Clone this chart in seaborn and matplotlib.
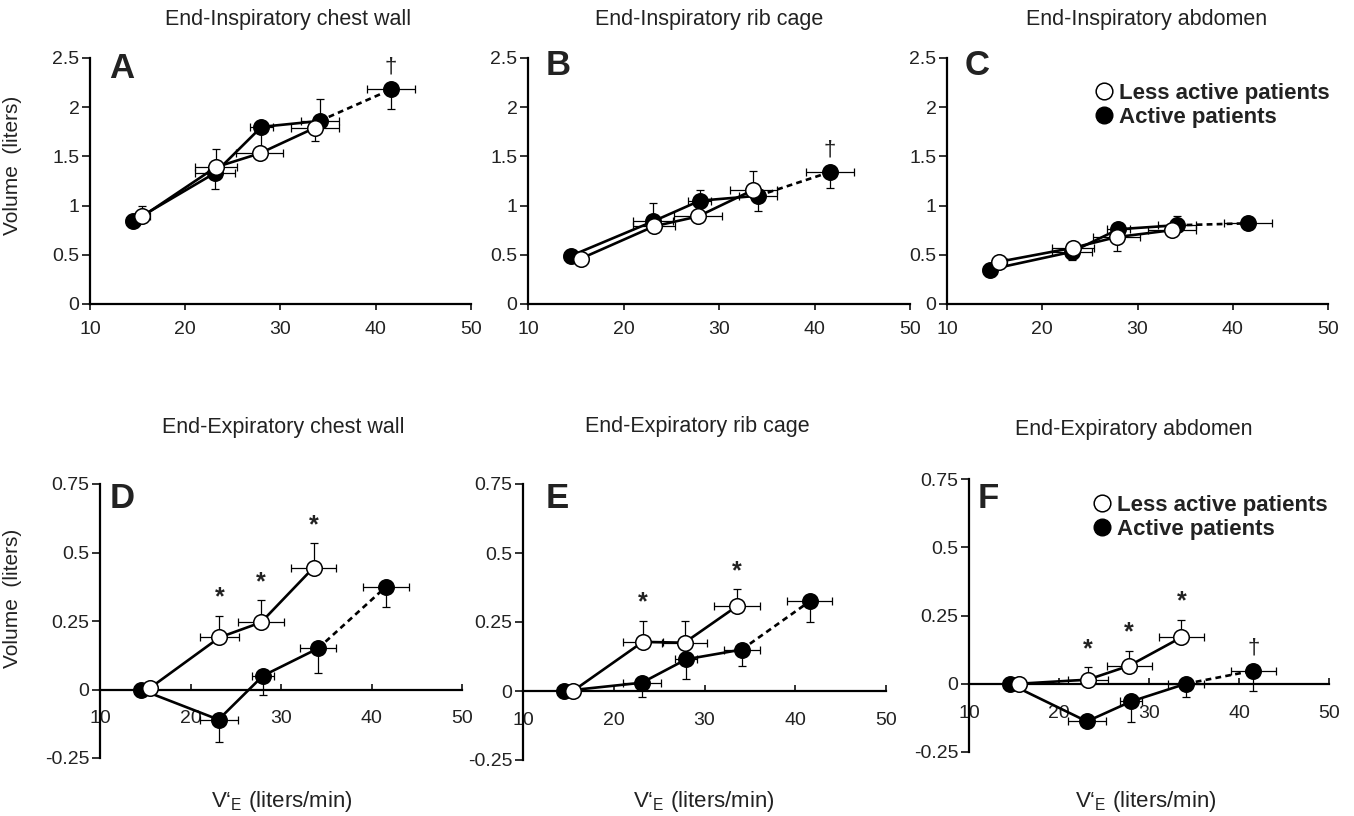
import matplotlib
matplotlib.use("Agg")
import matplotlib.pyplot as plt
import seaborn as sns
import pandas as pd
from matplotlib.lines import Line2D

# ---------------- data ----------------
ve_active = [14.5, 23.1, 28.0, 34.1, 41.6]
ve_active_err = [0.7, 2.1, 1.2, 2.0, 2.5]
ve_less = [15.5, 23.2, 27.8, 33.6]
ve_less_err = [0.8, 2.2, 2.5, 2.5]

panel_ids = ["A", "B", "C", "D", "E", "F"]
titles = ["End-Inspiratory chest wall", "End-Inspiratory rib cage", "End-Inspiratory abdomen",
          "End-Expiratory chest wall", "End-Expiratory rib cage", "End-Expiratory abdomen"]

active_y = {
    "A": [0.84, 1.33, 1.80, 1.86, 2.18],
    "B": [0.49, 0.84, 1.05, 1.10, 1.34],
    "C": [0.35, 0.53, 0.76, 0.80, 0.82],
    "D": [0.0, -0.11, 0.05, 0.15, 0.375],
    "E": [0.0, 0.03, 0.115, 0.15, 0.325],
    "F": [0.0, -0.138, -0.065, 0.0, 0.048],
}
active_err_lo = {
    "A": [0.03, 0.16, 0.25, 0.0, 0.20],
    "B": [0.02, 0.0, 0.0, 0.15, 0.16],
    "C": [0.0, 0.08, 0.0, 0.0, 0.04],
    "D": [0.0, 0.08, 0.07, 0.09, 0.075],
    "E": [0.0, 0.05, 0.07, 0.06, 0.075],
    "F": [0.0, 0.01, 0.075, 0.05, 0.075],
}
active_err_hi = {
    "A": [0.0, 0.0, 0.0, 0.22, 0.0],
    "B": [0.0, 0.19, 0.11, 0.0, 0.0],
    "C": [0.05, 0.0, 0.0, 0.09, 0.0],
    "D": [0.0, 0.0, 0.0, 0.0, 0.0],
    "E": [0.0, 0.0, 0.0, 0.0, 0.0],
    "F": [0.0, 0.0, 0.0, 0.0, 0.0],
}
less_y = {
    "A": [0.89, 1.39, 1.53, 1.79],
    "B": [0.46, 0.79, 0.89, 1.16],
    "C": [0.43, 0.57, 0.68, 0.75],
    "D": [0.005, 0.19, 0.245, 0.445],
    "E": [0.0, 0.178, 0.175, 0.308],
    "F": [0.0, 0.015, 0.066, 0.17],
}
less_err_lo = {
    "A": [0.0, 0.0, 0.0, 0.13],
    "B": [0.02, 0.0, 0.0, 0.0],
    "C": [0.0, 0.0, 0.14, 0.0],
    "D": [0.0, 0.0, 0.0, 0.0],
    "E": [0.0, 0.0, 0.0, 0.0],
    "F": [0.0, 0.0, 0.0, 0.0],
}
less_err_hi = {
    "A": [0.11, 0.19, 0.0, 0.0],
    "B": [0.0, 0.0, 0.0, 0.19],
    "C": [0.0, 0.0, 0.0, 0.0],
    "D": [0.0, 0.08, 0.08, 0.09],
    "E": [0.0, 0.077, 0.08, 0.06],
    "F": [0.0, 0.045, 0.055, 0.065],
}
# significance marks: * on less-active points, dagger on active points
star_idx = {"A": [], "B": [], "C": [], "D": [1, 2, 3], "E": [1, 3], "F": [1, 2, 3]}
dagger_idx = {"A": [4], "B": [4], "C": [], "D": [], "E": [], "F": [4]}

x_ticks = [10, 20, 30, 40, 50]
y_ticks_top = [0, 0.5, 1, 1.5, 2, 2.5]
y_tick_labels_top = ["0", "0.5", "1", "1.5", "2", "2.5"]
y_ticks_bot = [-0.25, 0, 0.25, 0.5, 0.75]
y_tick_labels_bot = ["-0.25", "0", "0.25", "0.5", "0.75"]
legend_labels = ["Less active patients", "Active patients"]

# ---------------- style ----------------
sns.set_theme(style="ticks")
plt.rcParams["font.family"] = ["Liberation Sans", "DejaVu Sans"]
plt.rcParams["mathtext.fontset"] = "custom"
plt.rcParams["mathtext.rm"] = "Liberation Sans"
plt.rcParams["mathtext.it"] = "Liberation Sans"
plt.rcParams["axes.unicode_minus"] = False

W, H = 1354, 816
fig = plt.figure(figsize=(W / 100, H / 100), dpi=100)

# axes boxes in pixels: left, top, right, bottom
boxes = {
    "A": (90, 58, 471, 304),
    "B": (528, 58, 910, 304),
    "C": (947, 58, 1328, 304),
    "D": (100, 484, 462, 758),
    "E": (523, 484, 886, 760),
    "F": (969, 479, 1329, 752),
}
title_pos = {"A": (0.52, 1.155), "B": (0.475, 1.155), "C": (0.525, 1.155),
             "D": (0.505, 1.205), "E": (0.48, 1.207), "F": (0.458, 1.183)}
letter_pos = {"A": (0.084, 0.958), "B": (0.079, 0.968), "C": (0.079, 0.968),
              "D": (0.061, 0.947), "E": (0.094, 0.947), "F": (0.053, 0.928)}
xlabel_pos = {"D": (0.503, -0.16), "E": (0.499, -0.152), "F": (0.49, -0.183)}
legend_anchor = {"C": (1.028, 0.935), "F": (1.022, 0.975)}

LW = 1.9
MS = 125
EW = 0.9
TXT = "#222222"

for pid, title in zip(panel_ids, titles):
    l, t, r, b = boxes[pid]
    ax = fig.add_axes([l / W, 1 - b / H, (r - l) / W, (b - t) / H])
    top_row = pid in ("A", "B", "C")

    ay = active_y[pid]
    ly = less_y[pid]

    # active: solid segment then dashed last segment
    sns.lineplot(x=ve_active[:4], y=ay[:4], color="black", lw=LW, ax=ax,
                 estimator=None, sort=False, zorder=2)
    sns.lineplot(x=ve_active[3:], y=ay[3:], color="black", lw=LW, ax=ax,
                 estimator=None, sort=False, zorder=2, linestyle=(0, (2.2, 1.6)))
    ax.errorbar(ve_active, ay, xerr=ve_active_err,
                yerr=[active_err_lo[pid], active_err_hi[pid]], fmt="none",
                ecolor="black", elinewidth=EW, capsize=3, capthick=EW, zorder=2.5)
    sns.scatterplot(x=ve_active, y=ay, color="black", edgecolor="black", s=MS,
                    linewidth=1.0, ax=ax, zorder=3)

    # less active
    sns.lineplot(x=ve_less, y=ly, color="black", lw=LW, ax=ax,
                 estimator=None, sort=False, zorder=4)
    ax.errorbar(ve_less, ly, xerr=ve_less_err,
                yerr=[less_err_lo[pid], less_err_hi[pid]], fmt="none",
                ecolor="black", elinewidth=EW, capsize=3, capthick=EW, zorder=4.5)
    sns.scatterplot(x=ve_less, y=ly, color="white", edgecolor="black", s=MS,
                    linewidth=1.1, ax=ax, zorder=5)

    for i in star_idx[pid]:
        ax.annotate("*", (ve_less[i], ly[i] + less_err_hi[pid][i]), xytext=(0, 13),
                    textcoords="offset points", ha="center", va="center",
                    fontsize=18, fontweight="bold", color=TXT)
    for i in dagger_idx[pid]:
        ax.annotate("\u2020", (ve_active[i], ay[i] + active_err_hi[pid][i]),
                    xytext=(0, 16), textcoords="offset points", ha="center",
                    va="center", fontsize=16, color=TXT)

    ax.set_xlim(10, 50)
    ax.set_xticks(x_ticks)
    ax.set_xticklabels([str(v) for v in x_ticks])
    if top_row:
        ax.set_ylim(0, 2.5)
        ax.set_yticks(y_ticks_top)
        ax.set_yticklabels(y_tick_labels_top)
        ax.tick_params(axis="x", direction="out", length=4, width=1.3, pad=8)
    else:
        ax.set_ylim(-0.25, 0.75)
        ax.set_yticks(y_ticks_bot)
        ax.set_yticklabels(y_tick_labels_bot)
        ax.spines["bottom"].set_position(("data", 0))
        ax.tick_params(axis="x", direction="in", length=4, width=1.3, pad=15)
    ax.tick_params(axis="y", direction="out", length=5.5, width=1.3, pad=2)
    ax.tick_params(labelsize=14, colors=TXT)
    for s in ("top", "right"):
        ax.spines[s].set_visible(False)
    for s in ("left", "bottom"):
        ax.spines[s].set_linewidth(1.6)
        ax.spines[s].set_color("black")

    ax.set_xlabel("")
    ax.set_ylabel("")
    tx, ty = title_pos[pid]
    ax.text(tx, ty, title, transform=ax.transAxes, ha="center", va="center",
            fontsize=15.5, color=TXT)
    lx, lyy = letter_pos[pid]
    ax.text(lx, lyy, pid, transform=ax.transAxes, ha="center", va="center",
            fontsize=25, fontweight="bold", color=TXT)

    if pid in ("A", "D"):
        ax.set_ylabel("Volume  (liters)", fontsize=15, color=TXT)
        if pid == "A":
            ax.yaxis.set_label_coords(-0.178, 0.565)
        else:
            ax.yaxis.set_label_coords(-0.215, 0.584)
    if pid in xlabel_pos:
        xx, xy = xlabel_pos[pid]
        ax.text(xx, xy, "V\u2018$_{\\rm E}$ (liters/min)", transform=ax.transAxes,
                ha="center", va="center", fontsize=16, color=TXT)

    if pid in legend_anchor:
        handles = [Line2D([], [], marker="o", ls="none", markersize=12,
                          markerfacecolor="white", markeredgecolor="black", markeredgewidth=1.1),
                   Line2D([], [], marker="o", ls="none", markersize=12,
                          markerfacecolor="black", markeredgecolor="black")]
        leg = ax.legend(handles, legend_labels, loc="upper right",
                        bbox_to_anchor=legend_anchor[pid], frameon=False,
                        handletextpad=0.2, handlelength=1.0, labelspacing=0.15,
                        borderaxespad=0, prop={"weight": "bold", "size": 16})
        for txt in leg.get_texts():
            txt.set_color(TXT)

fig.savefig("out.png", dpi=100)
